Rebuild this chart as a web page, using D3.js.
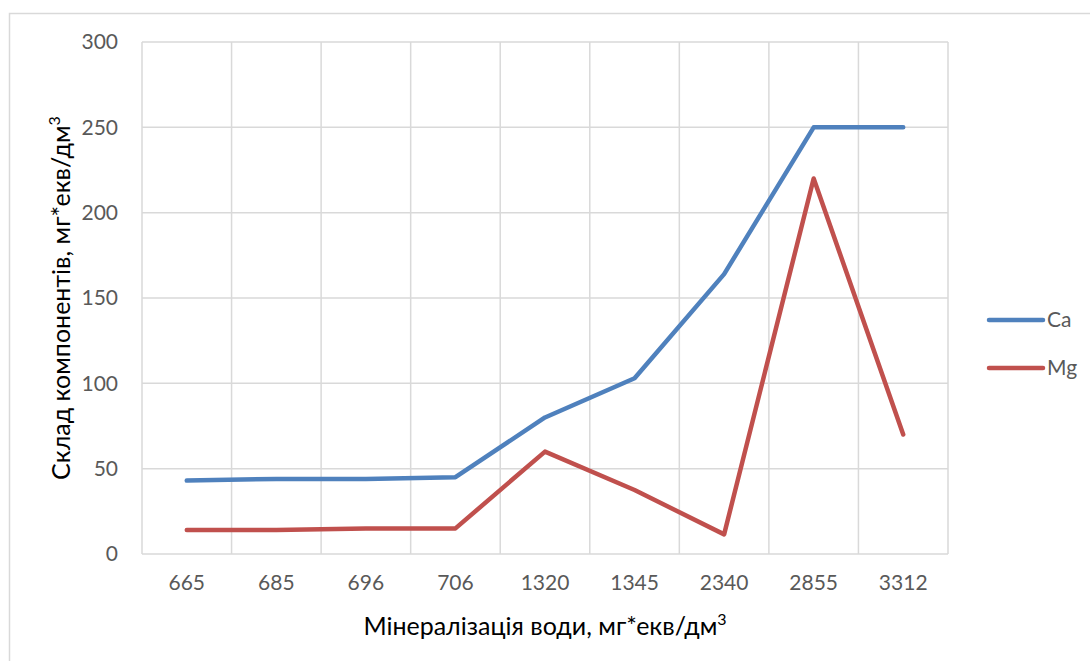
<!DOCTYPE html>
<html>
<head>
	<meta charset="UTF-8">
	<title>Ca Mg</title>
	<style>
		body { margin: 0; background: #fff; }
		text { font-family: Lato, "Open Sans", sans-serif; }
		.grid line { stroke: #d9d9d9; stroke-width: 1.5; }
		.tick text { fill: #595959; font-size: 21px; }
	</style>
</head>
<body>
<script src="https://d3js.org/d3.v7.min.js"></script>
<script>
'use strict';

var categories = ["665", "685", "696", "706", "1320", "1345", "2340", "2855", "3312"];
var ca = [43, 44, 44, 45, 80, 103, 164, 250, 250];
var mg = [14, 14, 15, 15, 60, 37.5, 11.5, 220, 70];
var yTicks = [0, 50, 100, 150, 200, 250, 300];
var seriesNames = ["Ca", "Mg"];
var colors = ["#4f81bd", "#c0504d"];

var W = 1090, H = 661;
var margin = {left: 142, right: 142, top: 42, bottom: 107};

var svg = d3.select("body").append("svg")
	.attr("width", W)
	.attr("height", H);

// chart frame
svg.append("rect")
	.attr("x", 9.5).attr("y", 13.5)
	.attr("width", W + 10).attr("height", H + 10)
	.attr("fill", "none")
	.attr("stroke", "#d9d9d9")
	.attr("stroke-width", 1.5);

var x = d3.scaleBand()
	.domain(categories)
	.range([margin.left, W - margin.right]);
var y = d3.scaleLinear()
	.domain([0, 300])
	.range([H - margin.bottom, margin.top]);

var grid = svg.append("g").attr("class", "grid");
grid.selectAll(".h").data(yTicks).enter().append("line")
	.attr("x1", x.range()[0]).attr("x2", x.range()[1])
	.attr("y1", function(d){ return y(d); })
	.attr("y2", function(d){ return y(d); });
grid.selectAll(".v").data(categories.concat(["end"])).enter().append("line")
	.attr("x1", function(d, i){ return x.range()[0] + i * x.step(); })
	.attr("x2", function(d, i){ return x.range()[0] + i * x.step(); })
	.attr("y1", y(0)).attr("y2", y(300));

var yAxis = svg.append("g")
	.attr("transform", "translate(" + (margin.left - 24) + ",0)")
	.call(d3.axisLeft(y).tickValues(yTicks).tickSize(0).tickPadding(0));
yAxis.select(".domain").remove();

var xAxis = svg.append("g")
	.attr("transform", "translate(0," + (y(0) + 21) + ")")
	.call(d3.axisBottom(x).tickSize(0).tickPadding(0));
xAxis.select(".domain").remove();
xAxis.selectAll("text").attr("dy", "0.71em");

var line = d3.line()
	.x(function(d, i){ return x(categories[i]) + x.bandwidth() / 2; })
	.y(function(d){ return y(d); });

[ca, mg].forEach(function(s, k){
	svg.append("path")
		.datum(s)
		.attr("d", line)
		.attr("fill", "none")
		.attr("stroke", colors[k])
		.attr("stroke-width", 4.5)
		.attr("stroke-linecap", "round")
		.attr("stroke-linejoin", "round");
});

// axis titles
var xt = svg.append("text")
	.attr("x", 545).attr("y", 635)
	.attr("text-anchor", "middle")
	.attr("font-size", 25)
	.attr("fill", "#000");
xt.append("tspan").text("Мінералізація води, мг*екв/дм");
xt.append("tspan").attr("font-size", 16).attr("dy", -10).text("3");

var yt = svg.append("text")
	.attr("transform", "translate(70,298) rotate(-90)")
	.attr("text-anchor", "middle")
	.attr("font-size", 25)
	.attr("fill", "#000");
yt.append("tspan").text("Склад компонентів, мг*екв/дм");
yt.append("tspan").attr("font-size", 16).attr("dy", -10).text("3");

// legend
var legend = svg.selectAll(".legend").data(seriesNames).enter().append("g")
	.attr("transform", function(d, i){ return "translate(989," + (320 + i * 48) + ")"; });
legend.append("line")
	.attr("x1", 0).attr("x2", 54)
	.attr("stroke", function(d, i){ return colors[i]; })
	.attr("stroke-width", 4.5)
	.attr("stroke-linecap", "round");
legend.append("text")
	.attr("x", 58).attr("dy", "0.35em")
	.attr("font-size", 21)
	.attr("fill", "#595959")
	.text(function(d){ return d; });
</script>
</body>
</html>
